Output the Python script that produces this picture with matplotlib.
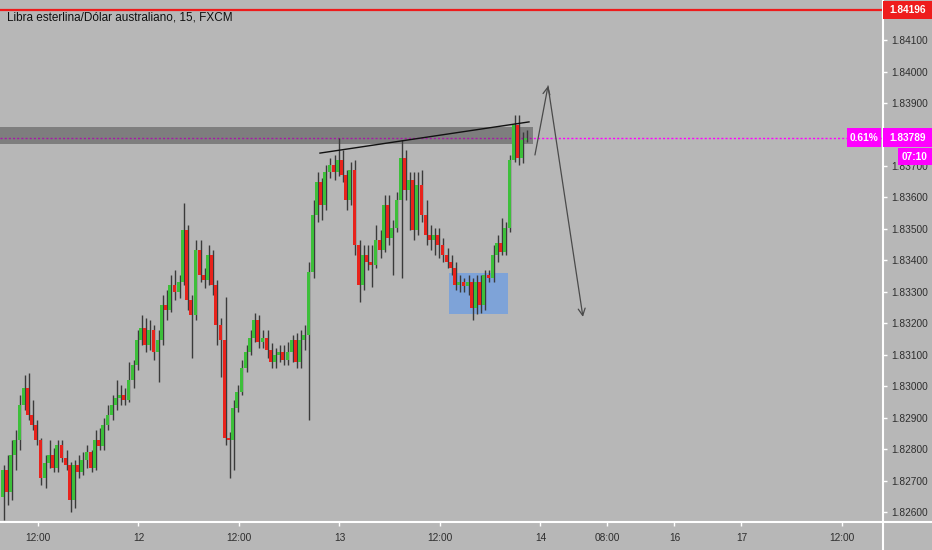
import numpy as np
import matplotlib
matplotlib.use("Agg")
import matplotlib.pyplot as plt
from matplotlib.patches import Rectangle
from matplotlib.lines import Line2D

# ---------------- data ----------------
title = "Libra esterlina/Dólar australiano, 15, FXCM"
first_hour = 7.75          # hour (from day 11 00:00) of first candle
bar_hours = 0.5

first_open = 1.82649
highs = [1.82751, 1.82783, 1.82830, 1.82862, 1.82973, 1.83037, 1.83043, 1.82957, 1.82894, 1.82837,
         1.82783, 1.82830, 1.82805, 1.82830, 1.82830, 1.82798, 1.82760, 1.82767, 1.82783, 1.82792,
         1.82814, 1.82798, 1.82862, 1.82868, 1.82900, 1.82941, 1.82973, 1.83021, 1.83005, 1.82995,
         1.83078, 1.83084, 1.83179, 1.83227, 1.83218, 1.83211, 1.83195, 1.83179, 1.83291, 1.83306,
         1.83354, 1.83370, 1.83354, 1.83583, 1.83513, 1.83291, 1.83465, 1.83465, 1.83376, 1.83449,
         1.83433, 1.83338, 1.83218, 1.83284, 1.82856, 1.82957, 1.83005, 1.83084, 1.83132, 1.83179,
         1.83233, 1.83227, 1.83179, 1.83179, 1.83138, 1.83122, 1.83132, 1.83132, 1.83141, 1.83164,
         1.83170, 1.83179, 1.83195, 1.83395, 1.83592, 1.83681, 1.83662, 1.83703, 1.83725, 1.83735,
         1.83789, 1.83751, 1.83687, 1.83713, 1.83719, 1.83465, 1.83449, 1.83449, 1.83449, 1.83513,
         1.83497, 1.83608, 1.83608, 1.83529, 1.83618, 1.83783, 1.83751, 1.83681, 1.83681, 1.83681,
         1.83687, 1.83592, 1.83513, 1.83503, 1.83503, 1.83471, 1.83440, 1.83418, 1.83395, 1.83354,
         1.83345, 1.83354, 1.83345, 1.83354, 1.83354, 1.83370, 1.83370, 1.83449, 1.83481, 1.83535,
         1.83522, 1.83735, 1.83862, 1.83862, 1.83808, 1.83814]
lows = [1.82576, 1.82624, 1.82640, 1.82735, 1.82798, 1.82925, 1.82894, 1.82862, 1.82814, 1.82687,
        1.82678, 1.82741, 1.82729, 1.82729, 1.82760, 1.82735, 1.82602, 1.82614, 1.82710, 1.82719,
        1.82741, 1.82729, 1.82735, 1.82798, 1.82798, 1.82862, 1.82894, 1.82925, 1.82941, 1.82941,
        1.82951, 1.82995, 1.83052, 1.83132, 1.83110, 1.83116, 1.83084, 1.83014, 1.83132, 1.83211,
        1.83237, 1.83275, 1.83281, 1.83322, 1.83243, 1.83091, 1.83211, 1.83332, 1.83313, 1.83322,
        1.83291, 1.83132, 1.83030, 1.82814, 1.82710, 1.82735, 1.82919, 1.82973, 1.83046, 1.83100,
        1.83141, 1.83122, 1.83122, 1.83091, 1.83059, 1.83059, 1.83078, 1.83068, 1.83068, 1.83078,
        1.83059, 1.83059, 1.83116, 1.82894, 1.83345, 1.83522, 1.83529, 1.83560, 1.83662, 1.83656,
        1.83668, 1.83649, 1.83560, 1.83576, 1.83418, 1.83268, 1.83306, 1.83370, 1.83316, 1.83376,
        1.83408, 1.83427, 1.83449, 1.83354, 1.83491, 1.83345, 1.83592, 1.83497, 1.83465, 1.83481,
        1.83522, 1.83449, 1.83433, 1.83418, 1.83408, 1.83395, 1.83376, 1.83354, 1.83306, 1.83300,
        1.83300, 1.83291, 1.83211, 1.83230, 1.83233, 1.83243, 1.83332, 1.83332, 1.83395, 1.83418,
        1.83418, 1.83491, 1.83713, 1.83703, 1.83710, 1.83776]
closes = [1.82735, 1.82665, 1.82783, 1.82830, 1.82941, 1.82995, 1.82910, 1.82878, 1.82830, 1.82710,
          1.82757, 1.82783, 1.82741, 1.82814, 1.82773, 1.82751, 1.82640, 1.82751, 1.82729, 1.82767,
          1.82792, 1.82741, 1.82830, 1.82811, 1.82878, 1.82910, 1.82941, 1.82964, 1.82973, 1.82957,
          1.83021, 1.83068, 1.83148, 1.83186, 1.83132, 1.83179, 1.83110, 1.83148, 1.83259, 1.83243,
          1.83322, 1.83300, 1.83332, 1.83497, 1.83275, 1.83227, 1.83433, 1.83354, 1.83338, 1.83418,
          1.83322, 1.83195, 1.83148, 1.82837, 1.82830, 1.82932, 1.82983, 1.83059, 1.83110, 1.83154,
          1.83211, 1.83141, 1.83154, 1.83116, 1.83078, 1.83100, 1.83110, 1.83084, 1.83110, 1.83148,
          1.83078, 1.83148, 1.83164, 1.83364, 1.83545, 1.83649, 1.83576, 1.83681, 1.83703, 1.83681,
          1.83719, 1.83671, 1.83592, 1.83687, 1.83449, 1.83322, 1.83418, 1.83395, 1.83386, 1.83465,
          1.83433, 1.83576, 1.83471, 1.83503, 1.83592, 1.83725, 1.83624, 1.83656, 1.83497, 1.83640,
          1.83545, 1.83481, 1.83465, 1.83481, 1.83449, 1.83418, 1.83395, 1.83376, 1.83322, 1.83332,
          1.83319, 1.83332, 1.83249, 1.83332, 1.83259, 1.83354, 1.83345, 1.83418, 1.83456, 1.83427,
          1.83503, 1.83719, 1.83830, 1.83725, 1.83783, 1.83789]

price_ticks = [1.826, 1.827, 1.828, 1.829, 1.830, 1.831, 1.832, 1.833,
               1.834, 1.835, 1.836, 1.837, 1.838, 1.839, 1.840, 1.841]
hidden_tick = 1.838        # covered by the last-price tag on the scale
time_tick_hours = [12, 24, 36, 48, 60, 72, 80, 88, 96, 108]
time_tick_labels = ["12:00", "12", "12:00", "13", "12:00", "14", "08:00", "16", "17", "12:00"]

high_level = 1.84196
last_price = 1.83789
change_label = "0.61%"
countdown_label = "07:10"

zone_hours = (7.4, 71.1)
zone_prices = (1.83770, 1.83824)
trend_hours = (45.67, 70.63)
trend_prices = (1.83741, 1.83840)
box_hours = (61.07, 68.12)
box_prices = (1.83230, 1.83361)
arrow_hours = [71.34, 72.90, 77.07]
arrow_prices = [1.83735, 1.83954, 1.83221]

# ---------------- style ----------------
BG = "#b7b7b7"
UP = "#3dbf3a"
DOWN = "#e8231c"
WICK = "#3a3a3a"
MAG = "#ff00ff"
TXT = "#2e2e2e"
FONT = "Liberation Sans"

W, H = 932, 550
fig = plt.figure(figsize=(W / 100, H / 100), dpi=100, facecolor=BG)
ax = fig.add_axes([0, 28 / H, 883 / W, 522 / H], facecolor=BG)
ax.set_xlim(7.463, 112.9)
ax.set_ylim(1.825698, 1.842270)

n = len(closes)
t = first_hour + bar_hours * np.arange(n)
opens = [first_open] + closes[:-1]
bw = 0.36
for ti, o, h, l, c in zip(t, opens, highs, lows, closes):
    col = UP if c >= o else DOWN
    ax.vlines(ti + 0.16, l, h, color=WICK, lw=1.0, zorder=3)
    ax.add_patch(Rectangle((ti - bw / 2, min(o, c)), bw, max(abs(c - o), 0.00003),
                           facecolor=col, edgecolor="none", zorder=4))

# grey resistance zone
ax.axhline(last_price, color=MAG, lw=1.0, ls=(0, (1.5, 1.5)), zorder=1)
ax.add_patch(Rectangle((zone_hours[0], zone_prices[0]), zone_hours[1] - zone_hours[0],
                       zone_prices[1] - zone_prices[0], facecolor="#3a3a3a", alpha=0.45,
                       edgecolor="none", zorder=2))
# blue demand box
ax.add_patch(Rectangle((box_hours[0], box_prices[0]), box_hours[1] - box_hours[0],
                       box_prices[1] - box_prices[0], facecolor="#7ea3d8", edgecolor="none", zorder=2))
# trend line
ax.plot(trend_hours, trend_prices, color="#111111", lw=1.0, zorder=5)
# red high line
ax.axhline(high_level, color="#ee1c1c", lw=1.6, zorder=5)
# projection arrows
for k in range(2):
    ax.annotate("", xy=(arrow_hours[k + 1], arrow_prices[k + 1]),
                xytext=(arrow_hours[k], arrow_prices[k]),
                arrowprops=dict(arrowstyle="->,head_length=0.5,head_width=0.25",
                                color="#4a4a4a", lw=0.9, shrinkA=0, shrinkB=0), zorder=6)

# axes styling
for s in ax.spines.values():
    s.set_visible(False)
ax.yaxis.tick_right()
ax.set_yticks(price_ticks)
ax.set_yticklabels(["" if abs(p - hidden_tick) < 1e-9 else f"{p:.5f}" for p in price_ticks])
ax.set_xticks(time_tick_hours)
ax.set_xticklabels(time_tick_labels)
ax.tick_params(axis="y", colors="white", labelcolor=TXT, length=3, width=1, pad=3, labelsize=7.3)
ax.tick_params(axis="x", colors="white", labelcolor=TXT, length=3, width=1, pad=5, labelsize=7.3)
for lab in ax.get_xticklabels() + ax.get_yticklabels():
    lab.set_fontfamily(FONT)

# white axis lines spanning the figure
fig.add_artist(Line2D([0, 1], [28 / H, 28 / H], color="white", lw=1.5, transform=fig.transFigure))
fig.add_artist(Line2D([883 / W, 883 / W], [0, 1], color="white", lw=1.5, transform=fig.transFigure))

# title
fig.text(7 / W, 1 - 17 / H, title, fontsize=8.5, family=FONT, color="#111111", va="center", ha="left")

# price labels on the right scale
def fig_y(price):
    py = ax.transData.transform((ax.get_xlim()[0], price))[1]
    return py / H

def tag(x0, x1, yc, hh, color, text):
    fig.add_artist(Rectangle((x0 / W, yc - hh / H), (x1 - x0) / W, 2 * hh / H,
                             facecolor=color, edgecolor="none", transform=fig.transFigure, zorder=10))
    fig.text((x0 + x1) / 2 / W, yc, text, color="white", fontsize=7.3, family=FONT, weight="bold",
             ha="center", va="center", zorder=11)

tag(883, 932, fig_y(high_level), 9, "#ee1c1c", f"{high_level:.5f}")
tag(883, 932, fig_y(last_price), 9.5, MAG, f"{last_price:.5f}")
tag(847, 881, fig_y(last_price), 9.5, MAG, change_label)
tag(898, 932, fig_y(last_price) - 19 / H, 8.5, MAG, countdown_label)

fig.savefig("out.png", dpi=100, facecolor=BG)
